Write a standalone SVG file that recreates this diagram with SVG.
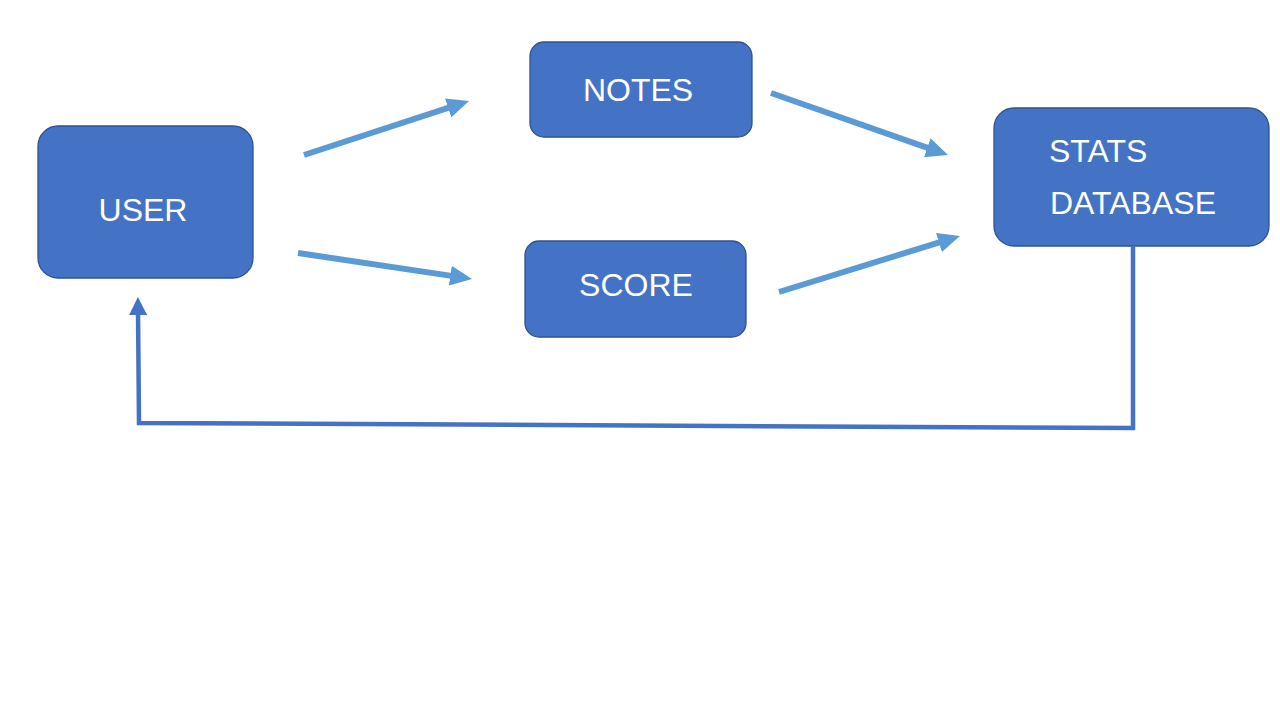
<svg xmlns="http://www.w3.org/2000/svg" width="1280" height="720" viewBox="0 0 1280 720">
<defs>
<style>
.box{fill:#4472C4;stroke:#2F528F;stroke-width:1.3}
.lbl{font-family:"Liberation Sans",Arial,sans-serif;font-size:32px;fill:#FFFFFF}
.flow{stroke:#5B9BD5;stroke-width:6;fill:none}
.ret{stroke:#4472C4;stroke-width:4.5;fill:none}
</style>
<marker id="ah" markerUnits="userSpaceOnUse" markerWidth="22" markerHeight="20" viewBox="0 0 22 20" refX="8" refY="10" orient="auto">
<path d="M0,0 L22,10 L0,20 Z" fill="#5B9BD5"/>
</marker>
<marker id="ah2" markerUnits="userSpaceOnUse" markerWidth="18" markerHeight="18" viewBox="0 0 18 18" refX="6" refY="9" orient="auto">
<path d="M0,0 L18,9 L0,18 Z" fill="#4472C4"/>
</marker>
</defs>
<rect width="1280" height="720" fill="#FFFFFF"/>
<g id="user">
<rect class="box" x="38" y="126" width="215" height="152" rx="20"/>
<text class="lbl" x="143" y="221" text-anchor="middle">USER</text>
</g>
<g id="notes">
<rect class="box" x="530" y="42" width="222" height="95" rx="14"/>
<text class="lbl" x="638" y="101" text-anchor="middle">NOTES</text>
</g>
<g id="score">
<rect class="box" x="525" y="241" width="221" height="96" rx="14"/>
<text class="lbl" x="636" y="296" text-anchor="middle">SCORE</text>
</g>
<g id="stats">
<rect class="box" x="994" y="108" width="275" height="138" rx="20"/>
<text class="lbl" x="1049" y="162">STATS</text>
<text class="lbl" x="1050" y="214">DATABASE</text>
</g>
<g id="connectors">
<line class="flow" x1="304" y1="155" x2="455.7" y2="105.4" marker-end="url(#ah)"/>
<line class="flow" x1="771" y1="93" x2="934.8" y2="150.4" marker-end="url(#ah)"/>
<line class="flow" x1="298" y1="253" x2="458.2" y2="276.9" marker-end="url(#ah)"/>
<line class="flow" x1="779" y1="292" x2="946.6" y2="240.1" marker-end="url(#ah)"/>
<polyline class="ret" points="1133,246 1133,428 139,423 138,309" marker-end="url(#ah2)"/>
</g>
</svg>
